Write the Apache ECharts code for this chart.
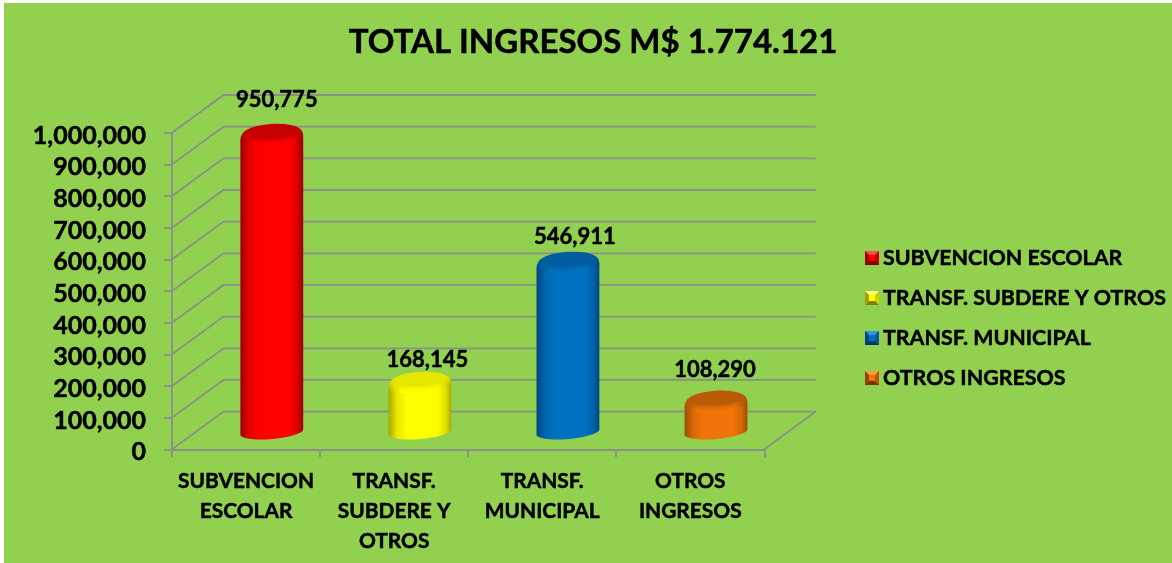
<!DOCTYPE html>
<html><head><meta charset="utf-8">
<style>
html,body{margin:0;padding:0;background:#fff;width:1172px;height:563px;overflow:hidden}
#bg{position:absolute;left:4px;top:3px;right:0;bottom:0;background:#92D050}
#chart{position:absolute;left:0;top:0;width:1172px;height:563px}
</style>
<script src="https://cdn.jsdelivr.net/npm/echarts@6/dist/echarts.min.js"></script>
</head><body><div id="bg"></div><div id="chart"></div>
<script>
const titleText = 'TOTAL INGRESOS M$ 1.774.121';
const categories = ['SUBVENCION\nESCOLAR', 'TRANSF.\nSUBDERE Y\nOTROS', 'TRANSF.\nMUNICIPAL', 'OTROS\nINGRESOS'];
const seriesNames = ['SUBVENCION ESCOLAR', 'TRANSF. SUBDERE Y OTROS', 'TRANSF. MUNICIPAL', 'OTROS INGRESOS'];
const values = [950775, 168145, 546911, 108290];
const yTicks = [0, 100000, 200000, 300000, 400000, 500000, 600000, 700000, 800000, 900000, 1000000];

const FONT = 'Lato';
const GRAY = '#8b8f88';
const HEAVY = {textBorderColor:'#000', textBorderWidth:0.5};
const DX = 51.5, DY = 37.7;
const palette = [
  {edge:'#990000', mid:'#ff0000', top:'#c40000', leg:['#ff0000','#ff5050','#c00000','#800000','#a00000']},
  {edge:'#a8a800', mid:'#ffff00', top:'#e6e600', leg:['#ffff00','#ffff80','#d0d000','#808000','#a0a000']},
  {edge:'#00477f', mid:'#0070c0', top:'#005c9e', leg:['#0070c0','#3a96d8','#005a9a','#003a66','#004a80']},
  {edge:'#9c4c04', mid:'#f07408', top:'#b85a08', leg:['#f07408','#ff9a40','#b85a08','#703604','#904604']}
];
const labelNudge = [[5,-31],[7.5,-19],[7,-22],[-1,-28]];

function legendIcon(c){
  const svg = `<svg xmlns="http://www.w3.org/2000/svg" width="14" height="14"><rect width="14" height="14" fill="${c[0]}"/><polygon points="0,0 14,0 10,4 4,4" fill="${c[1]}"/><polygon points="14,0 14,14 10,10 10,4" fill="${c[2]}"/><polygon points="0,14 14,14 10,10 4,10" fill="${c[3]}"/><polygon points="0,0 0,14 4,10 4,4" fill="${c[4]}"/></svg>`;
  return 'image://data:image/svg+xml;charset=utf-8,' + encodeURIComponent(svg);
}
function arc(cx, cy, rx, ry, from, to, n, deg){
  const a = -(deg || 5) * Math.PI / 180, pts = [];
  for (let i = 0; i <= n; i++){
    const t = from + (to - from) * i / n;
    pts.push([cx + rx*Math.cos(t)*Math.cos(a) - ry*Math.sin(t)*Math.sin(a),
              cy + rx*Math.cos(t)*Math.sin(a) + ry*Math.sin(t)*Math.cos(a)]);
  }
  return pts;
}
function hGrad(stops){
  return {type:'linear', x:0, y:0, x2:1, y2:0, colorStops:stops.map(s=>({offset:s[0], color:s[1]}))};
}
function mix(h1,h2,k){
  const p=h=>[1,3,5].map(i=>parseInt(h.substr(i,2),16));
  const a=p(h1),b=p(h2);
  return 'rgb('+a.map((v,i)=>Math.round(v+(b[i]-v)*k)).join(',')+')';
}
function cylinderRenderer(idx){
  return function(params, api){
    const base = api.coord([api.value(0), 0]);
    const tip = api.coord([api.value(0), api.value(1)]);
    const band = api.size([1, 0])[0];
    const rx = band * 0.213, ry = 7, bev = 8;
    const cx = base[0] + DX/2, by = base[1] - 17.3, ty = tip[1] - 17.3;
    const pal = palette[idx];
    const kids = [];
    const body = arc(cx, by, rx, ry, Math.PI, 0, 30).concat(arc(cx, ty+bev, rx, ry, 0, -Math.PI, 30));
    kids.push({type:'polygon', shape:{points:body},
      style:{fill:hGrad([[0,pal.edge],[0.14,mix(pal.edge,pal.mid,0.75)],[0.3,pal.mid],[0.78,pal.mid],[0.92,mix(pal.edge,pal.mid,0.6)],[1,pal.edge]])}});
    const steps = 8;
    for (let s = 1; s <= steps; s++){
      const k = s/steps;
      const rr = rx - 5*(1-Math.sqrt(1-k*k));
      const col = mix(pal.mid, pal.top, k*k);
      const edge = mix(pal.edge, pal.top, k);
      kids.push({type:'polygon', shape:{points:arc(cx, ty+bev*(1-k), rr, ry, 0, 2*Math.PI, 48, 5-1.5*k)},
        style:{fill:hGrad([[0,edge],[0.2,col],[0.8,col],[1,edge]])}});
    }
    const p = labelNudge[idx];
    kids.push({type:'text', x:cx+p[0], y:ty+p[1],
      style:{text:api.value(1).toLocaleString('en-US'), x:0, y:0, align:'center', verticalAlign:'middle',
             font:'bold 22px '+FONT, fill:'#000', stroke:'#000', lineWidth:0.5}, z2:50});
    return {type:'group', children:kids};
  };
}
function wallRenderer(params, api){
  const band = api.size([1,0])[0];
  const xL = api.coord([0,0])[0] - band/2;
  const xR = api.coord([categories.length-1,0])[0] + band/2;
  const y = api.coord([0, api.value(0)])[1];
  const ls = {stroke:GRAY, lineWidth:1.8, fill:'none'};
  const kids = [
    {type:'polyline', shape:{points:[[xL,y],[xL+DX,y-DY],[xR+DX,y-DY]]}, style:ls}
  ];
  if (api.value(0) === 0) kids.push({type:'line', shape:{x1:xR,y1:y,x2:xR+DX,y2:y-DY}, style:ls});
  return {type:'group', children:kids};
}

const chart = echarts.init(document.getElementById('chart'), null, {renderer:'canvas'});
const option = {
  animation:false,
  backgroundColor:'transparent',
  title:{text:titleText, left:588, top:21, textAlign:'center',
    textStyle:{fontFamily:FONT, fontWeight:'bold', fontSize:33, color:'#000', ...HEAVY}},
  grid:{left:172, right:1172-764.3, top:132.7, bottom:563-449.3},
  legend:{orient:'vertical', left:860, top:242, itemWidth:14, itemHeight:14, itemGap:18, selectedMode:false,
    align:'left',
    data:seriesNames.map((n,i)=>({name:n, icon:legendIcon(palette[i].leg)})),
    textStyle:{fontFamily:FONT, fontWeight:'bold', fontSize:21.4, color:'#000', padding:[0,0,0,-1], height:22, lineHeight:22, ...HEAVY}},
  xAxis:{type:'category', data:categories, boundaryGap:true,
    axisLine:{show:true, lineStyle:{color:GRAY, width:1.8}},
    axisTick:{show:true, length:8, alignWithLabel:false, lineStyle:{color:GRAY, width:1.8}},
    axisLabel:{interval:0, margin:17, lineHeight:30, verticalAlign:'top',
      fontFamily:FONT, fontWeight:'bold', fontSize:20.9, color:'#000', ...HEAVY}},
  yAxis:{type:'value', min:0, max:1000000, interval:100000,
    axisLine:{show:true, lineStyle:{color:GRAY, width:1.8}},
    axisTick:{show:true, length:8, lineStyle:{color:GRAY, width:1.8}},
    splitLine:{show:false},
    axisLabel:{margin:26, fontFamily:FONT, fontWeight:'bold', fontSize:25, color:'#000', verticalAlign:'top', lineHeight:6, ...HEAVY,
      formatter:v=>v.toLocaleString('en-US')}},
  series:[
    {type:'custom', name:'wall', renderItem:wallRenderer, silent:true, z:1, clip:false,
      data:yTicks.map(v=>[v]), encode:{x:-1,y:-1}, tooltip:{show:false}},
    ...seriesNames.map((n,i)=>({type:'custom', name:n, z:3, clip:false,
      color:palette[i].mid,
      renderItem:cylinderRenderer(i), data:[[i,values[i]]], encode:{x:0,y:1}}))
  ]
};
chart.setOption(option);
</script></body></html>
